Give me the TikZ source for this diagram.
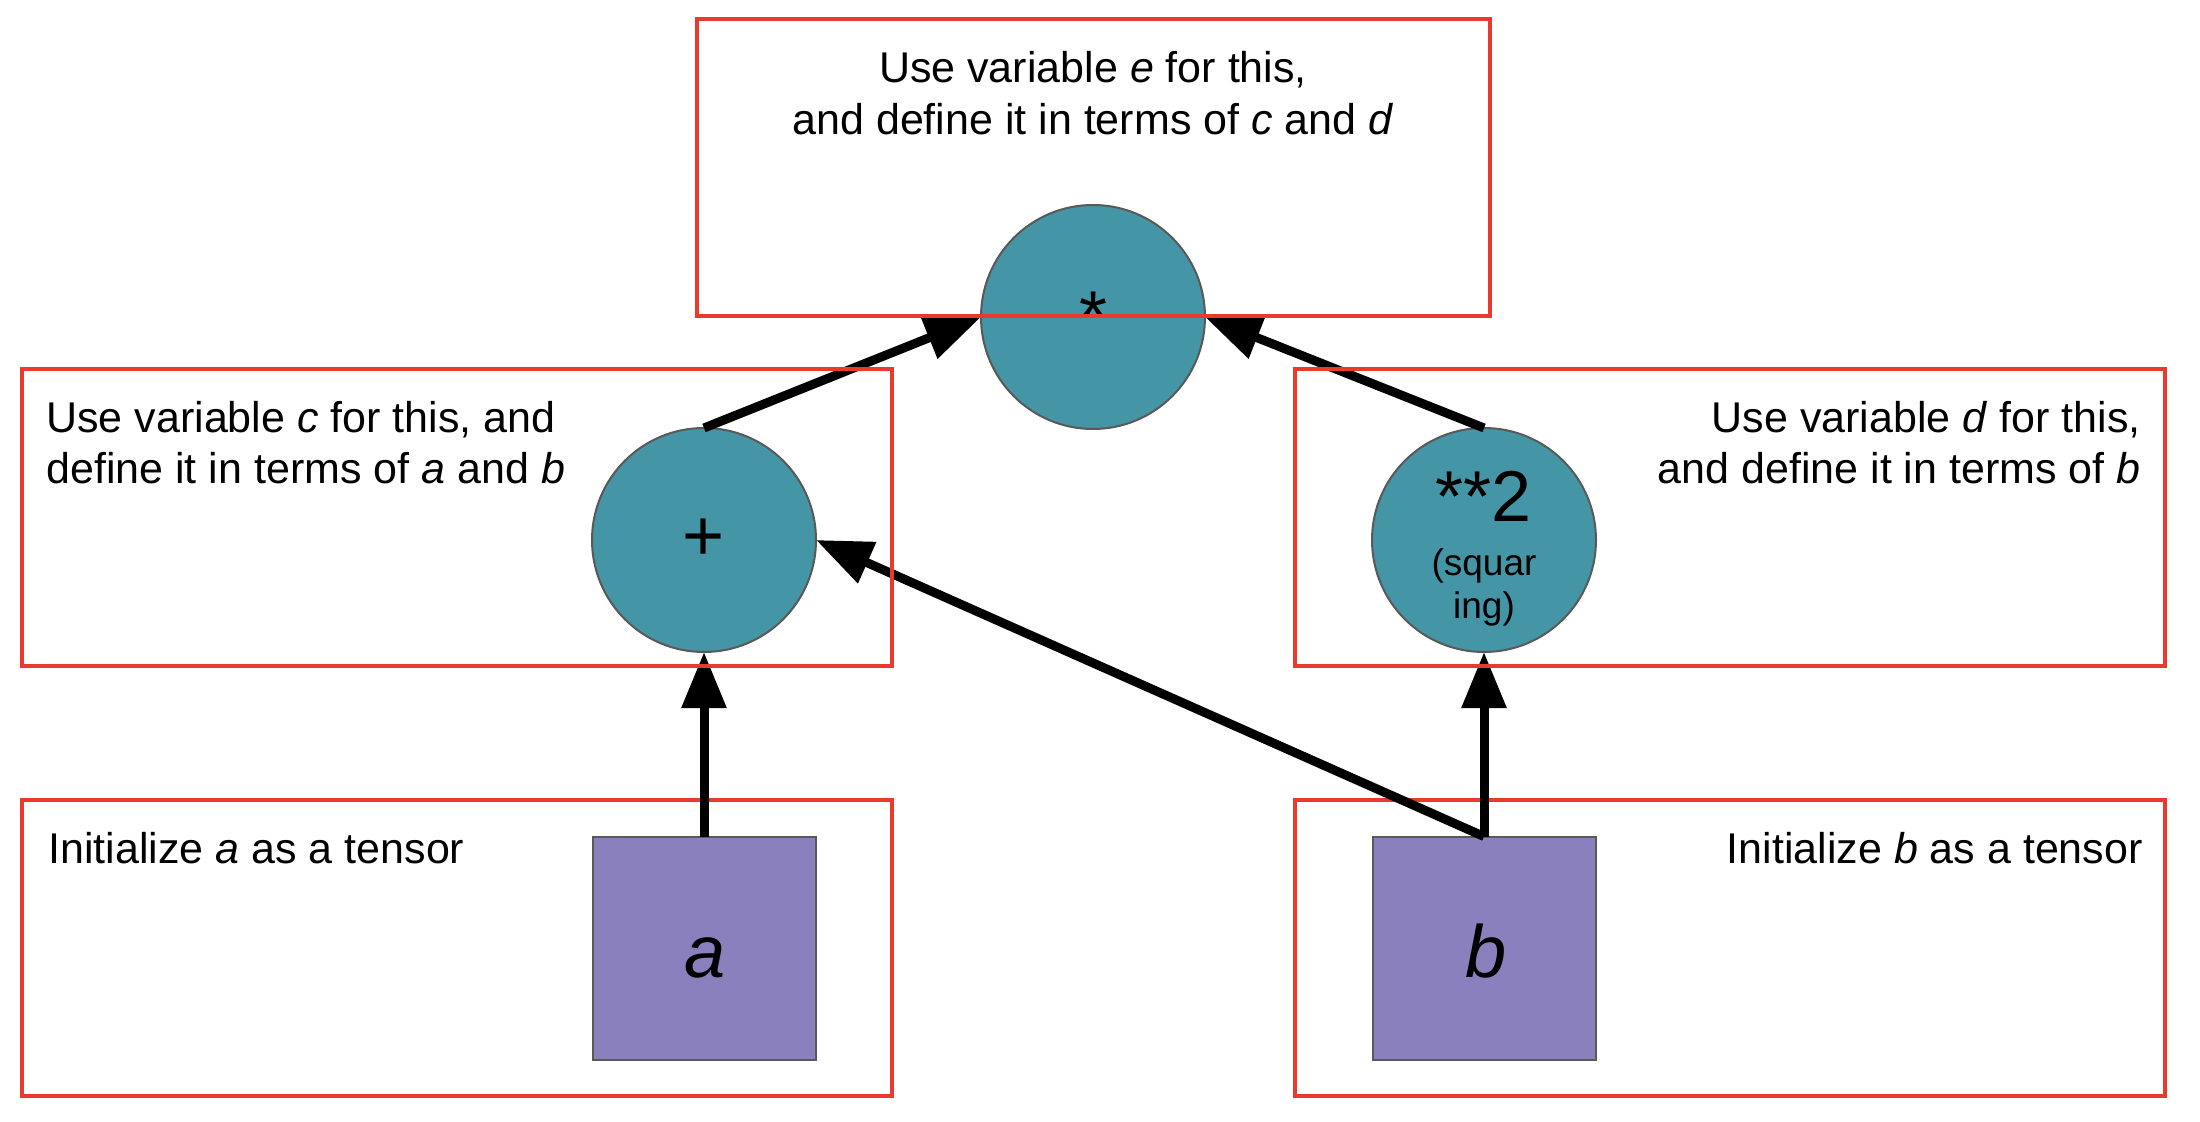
\documentclass[tikz,border=0pt]{standalone}
\usepackage{fontspec}
\setmainfont{Liberation Sans}
\usetikzlibrary{arrows.meta}
\definecolor{tealop}{HTML}{4495A6}
\definecolor{purpt}{HTML}{8B80BE}
\definecolor{redframe}{HTML}{EA3A2D}
\definecolor{edgegrey}{HTML}{595959}
\begin{document}
\begin{tikzpicture}[x=0.5pt,y=-0.5pt,
  frame/.style={draw=redframe,line width=1.75pt},
  op/.style={circle,draw=edgegrey,fill=tealop,line width=1pt,minimum size=112pt,inner sep=0pt,outer sep=0pt},
  tensor/.style={rectangle,draw=edgegrey,fill=purpt,line width=1pt,minimum size=111.5pt,inner sep=0pt,outer sep=0pt},
  lbl/.style={font=\fontsize{21.5pt}{26pt}\selectfont,inner sep=0pt},
  big/.style={font=\fontsize{36pt}{40pt}\selectfont,inner sep=0pt},
  small/.style={font=\fontsize{18.5pt}{22pt}\selectfont,inner sep=0pt},
  varl/.style={font=\fontsize{37pt}{42pt}\selectfont\itshape,inner sep=0pt},
  conn/.style={line width=4.5pt,-{Triangle[length=28pt,width=21.5pt]}}
]
\useasboundingbox (0,0) rectangle (2200,1122);
\fill[white] (0,0) rectangle (2200,1122);

% bottom frames
\draw[frame] (22,800) rectangle (892,1096);
\draw[frame] (1295,800) rectangle (2165,1096);

% shapes
\node[op] (e) at (1093,317) {};
\node[op,big] (c) at (704,540) {+};
\node[op] (d) at (1484,540) {};
\node[tensor] (a) at (704,948) {};
\node[tensor] (b) at (1484,948) {};

% labels inside shapes
\node[big,anchor=base] (star) at (1093,342) {*};
\node[big,anchor=base] (sq) at (1484,522) {**2};
\node[small,anchor=base] (sq1) at (1484,575) {(squar};
\node[small,anchor=base] (sq2) at (1484,618) {ing)};
\node[varl,anchor=base] (la) at (705,977) {a};
\node[varl,anchor=base] (lb) at (1486,977) {b};

% connectors
\draw[conn] (a.north) -- (c.south);
\draw[conn] (b.north) -- (c.east);
\draw[conn] (b.north) -- (d.south);
\draw[conn] (c.north) -- (e.west);
\draw[conn] (d.north) -- (e.east);

% upper frames
\draw[frame] (697,19) rectangle (1490,316);
\draw[frame] (22,369) rectangle (892,666);
\draw[frame] (1295,369) rectangle (2165,666);

% texts
\node[lbl,anchor=base] (te1) at (1093,83) {Use variable \textit{e} for this,};
\node[lbl,anchor=base] (te2) at (1093,135) {and define it in terms of \textit{c} and \textit{d}};
\node[lbl,anchor=base west] (tc1) at (46,433) {Use variable \textit{c} for this, and};
\node[lbl,anchor=base west] (tc2) at (46,484) {define it in terms of \textit{a} and \textit{b}};
\node[lbl,anchor=base east] (td1) at (2141,433) {Use variable \textit{d} for this,};
\node[lbl,anchor=base east] (td2) at (2141,484) {and define it in terms of \textit{b}};
\node[lbl,anchor=base west] (ta) at (48,863) {Initialize \textit{a} as a tensor};
\node[lbl,anchor=base east] (tb) at (2143,863) {Initialize \textit{b} as a tensor};
\end{tikzpicture}
\end{document}
